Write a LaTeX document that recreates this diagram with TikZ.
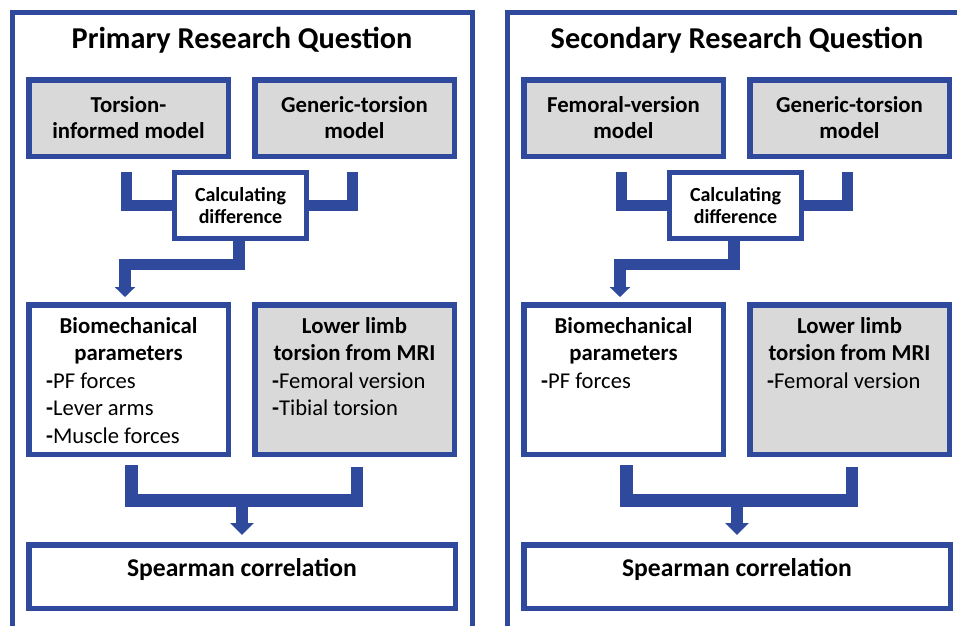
\documentclass[tikz,border=0pt]{standalone}
\usepackage{fontspec}
\setmainfont{Carlito}
\usetikzlibrary{arrows.meta,calc}
\definecolor{frameblue}{RGB}{47,73,157}
\definecolor{boxgrey}{RGB}{217,217,217}
\tikzset{
  panelframe/.style={draw=frameblue,line width=5pt},
  modelbox/.style={draw=frameblue,line width=5.5pt,fill=boxgrey,inner sep=0pt,outer sep=0pt,
    minimum width=199.5pt,minimum height=76.5pt,align=center,font=\fontsize{22.8}{26}\selectfont\bfseries},
  calcbox/.style={draw=frameblue,line width=5pt,fill=white,inner sep=0pt,outer sep=0pt,
    minimum width=132pt,minimum height=66pt,align=center,font=\fontsize{20}{22.5}\selectfont\bfseries},
  listbox/.style={draw=frameblue,line width=5.5pt,inner sep=0pt,outer sep=0pt,
    minimum width=199.5pt,minimum height=149.5pt},
  resultbox/.style={draw=frameblue,line width=5.5pt,fill=white,inner sep=0pt,outer sep=0pt,
    minimum width=426.5pt,minimum height=63.5pt},
  headtext/.style={inner sep=0pt,anchor=base,font=\fontsize{22.8}{26}\selectfont\bfseries},
  itemtext/.style={inner sep=0pt,anchor=base west,font=\fontsize{22.6}{26}\selectfont},
  titletext/.style={inner sep=0pt,anchor=base,font=\fontsize{30.3}{34}\selectfont\bfseries},
  resulttext/.style={inner sep=0pt,anchor=base,font=\fontsize{25.6}{30}\selectfont\bfseries},
  thickconn/.style={draw=frameblue,line width=11.5pt,line join=miter,line cap=butt},
  downarrow/.style={thickconn,-{Triangle[length=10pt,width=20pt]}},
  bigdownarrow/.style={thickconn,line width=12pt,-{Triangle[length=12pt,width=23pt]}},
}
\newcommand{\itemdash}{\textbf{-}}
\begin{document}
\begin{tikzpicture}[x=1pt,y=-1pt]
\useasboundingbox (0,0) rectangle (957,625);
\clip (0,0) rectangle (957,625);
\fill[white] (0,0) rectangle (957,625);

% ---------------- Left panel ----------------
\draw[panelframe] (12.5,12.5) rectangle (472.5,650);
\node[titletext] (ptitle) at (242,48) {Primary Research Question};

\node[modelbox] (pti) at (128.5,118) {Torsion-\\informed model};
\node[modelbox] (pgt) at (354.5,118) {Generic-torsion\\model};
\node[calcbox] (pcd) at (240.5,205.5) {Calculating\\difference};

\coordinate (pla) at (126.5,172);
\coordinate (pra) at (352.5,172);
\draw[thickconn] (pla) |- (pcd.west);
\draw[thickconn] (pra) |- (pcd.east);

\node[listbox,fill=white] (pbm) at (128.5,379.5) {};
\node[listbox,fill=boxgrey] (plt) at (354.5,379.5) {};

\coordinate (pds) at ($(pcd.south)+(-1.5,0)$);
\coordinate (pde) at ($(pbm.north)+(-3.5,-7.75)$);
\draw[downarrow] (pds) -- ($(pds)+(0,26)$) -| (pde);

\node[headtext] at (128.5,333) {Biomechanical};
\node[headtext] at (128.5,360.5) {parameters};
\node[itemtext] at (46,388) {\itemdash PF forces};
\node[itemtext] at (46,415.5) {\itemdash Lever arms};
\node[itemtext] at (46,443) {\itemdash Muscle forces};

\node[headtext] at (354.5,333) {Lower limb};
\node[headtext] at (354.5,360.5) {torsion from MRI};
\node[itemtext] at (272,388) {\itemdash Femoral version};
\node[itemtext] at (272,415.5) {\itemdash Tibial torsion};

\node[resultbox] (psc) at (242,576.5) {};
\node[resulttext] at (242,576) {Spearman correlation};

\coordinate (pbl) at (131.5,465);
\coordinate (pbr) at (357,467);
\coordinate (pbj) at (242,500.5);
\draw[thickconn,line width=12.5pt] (pbl) |- (pbj) -| (pbr);
\draw[bigdownarrow] (pbj) -- ($(psc.north)+(0,-9.75)$);

% ---------------- Right panel ----------------
\begin{scope}[xshift=495pt]
\draw[panelframe] (12.5,12.5) rectangle (480,650);
\node[titletext] (stitle) at (242,48) {Secondary Research Question};

\node[modelbox] (sfv) at (128.5,118) {Femoral-version\\model};
\node[modelbox] (sgt) at (354.5,118) {Generic-torsion\\model};
\node[calcbox] (scd) at (240.5,205.5) {Calculating\\difference};

\coordinate (sla) at (126.5,172);
\coordinate (sra) at (352.5,172);
\draw[thickconn] (sla) |- (scd.west);
\draw[thickconn] (sra) |- (scd.east);

\node[listbox,fill=white] (sbm) at (128.5,379.5) {};
\node[listbox,fill=boxgrey] (slt) at (354.5,379.5) {};

\coordinate (sds) at ($(scd.south)+(-1.5,0)$);
\coordinate (sde) at ($(sbm.north)+(-3.5,-7.75)$);
\draw[downarrow] (sds) -- ($(sds)+(0,26)$) -| (sde);

\node[headtext] at (128.5,333) {Biomechanical};
\node[headtext] at (128.5,360.5) {parameters};
\node[itemtext] at (46,388) {\itemdash PF forces};

\node[headtext] at (354.5,333) {Lower limb};
\node[headtext] at (354.5,360.5) {torsion from MRI};
\node[itemtext] at (272,388) {\itemdash Femoral version};

\node[resultbox] (ssc) at (242,576.5) {};
\node[resulttext] at (242,576) {Spearman correlation};

\coordinate (sbl) at (131.5,465);
\coordinate (sbr) at (357,467);
\coordinate (sbj) at (242,500.5);
\draw[thickconn,line width=12.5pt] (sbl) |- (sbj) -| (sbr);
\draw[bigdownarrow] (sbj) -- ($(ssc.north)+(0,-9.75)$);
\end{scope}
\end{tikzpicture}
\end{document}
